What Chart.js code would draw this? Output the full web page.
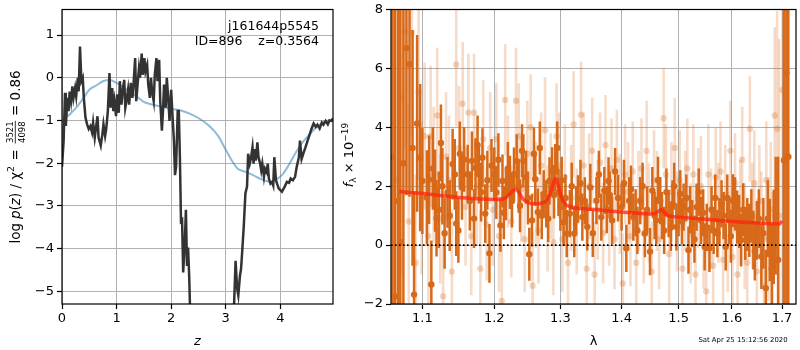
<!DOCTYPE html>
<html>
<head>
<meta charset="utf-8">
<script src="https://cdn.jsdelivr.net/npm/chart.js@4.4.1/dist/chart.umd.min.js"></script>
<style>
  html, body { margin: 0; padding: 0; background: #fff; }
  #wrap { position: relative; width: 800px; height: 350px; overflow: hidden; }
  #pz { position: absolute; left: 0; top: 0; }
  #spec { position: absolute; left: 340px; top: 0; }
</style>
</head>
<body>
<div id="wrap">
  <canvas id="pz" width="340" height="350"></canvas>
  <canvas id="spec" width="460" height="350"></canvas>
</div>
<script>
// ---- redshift probability panel ----
const zGrid = [0,0.03,0.055,0.07,0.1,0.12,0.14,0.165,0.19,0.21,
  0.24,0.26,0.29,0.305,0.33,0.355,0.38,0.4,0.43,0.46,
  0.49,0.52,0.55,0.57,0.6,0.62,0.65,0.67,0.71,0.74,
  0.76,0.79,0.81,0.84,0.87,0.89,0.92,0.94,0.96,0.99,
  1.01,1.04,1.06,1.09,1.11,1.14,1.16,1.18,1.21,1.23,
  1.26,1.29,1.31,1.34,1.36,1.39,1.41,1.43,1.46,1.48,
  1.51,1.53,1.56,1.58,1.61,1.63,1.65,1.68,1.70,1.73,
  1.75,1.78,1.80,1.83,1.85,1.87,1.90,1.92,1.95,1.97,
  2.00,2.02,2.05,2.07,2.09,2.12,2.14,2.16,2.18,2.20,
  2.22,2.25,2.27,2.29,2.31,2.33,2.35,2.45,2.65,2.85,
  3.05,3.13,3.15,3.18,3.21,3.23,3.26,3.28,3.30,3.33,
  3.36,3.39,3.41,3.44,3.46,3.49,3.51,3.53,3.55,3.58,
  3.60,3.63,3.65,3.67,3.70,3.72,3.75,3.77,3.79,3.82,
  3.85,3.87,3.89,3.92,3.94,3.97,4.00,4.03,4.08,4.12,
  4.16,4.19,4.23,4.27,4.30,4.34,4.36,4.39,4.43,4.46,
  4.50,4.54,4.57,4.61,4.65,4.68,4.72,4.76,4.79,4.83,
  4.87,4.90,4.94,4.965];
const logPz = [-2.09,-1.47,-0.35,-1.13,-0.47,-0.78,-0.32,-0.55,-0.2,-0.47,
  -0.24,-0.43,0,-0.32,0.73,-0.08,0,-0.47,-0.93,-1.09,
  -1.2,-1.13,-1.28,-1.05,-1.4,-1.2,-0.9,-1.4,-1.59,-1.32,
  -1.09,-1.36,-1.2,-0.78,0.11,-0.7,-0.24,-0.78,-0.55,-0.9,
  -0.39,-0.82,-0.08,-0.63,-0.32,-0.05,-0.7,-0.55,-0.28,-0.63,
  -0.12,-0.47,-0.16,0.46,-0.55,-0.08,0.22,0,0.57,0.07,
  0.46,0.15,0.3,-0.16,-0.47,0,-0.32,-0.55,0.07,0.46,
  -0.08,0.42,-0.55,-1.24,-0.78,-0.16,-0.7,0,-0.55,-1.01,
  -0.28,-0.78,-1.47,-2.28,-2.09,-0.78,-0.78,-1.86,-3.36,-3.33,
  -4.56,-3.86,-3.09,-4.41,-3.98,-4.64,-5.6,-7.5,-9.0,-9.5,
  -8.0,-6.3,-5.41,-4.29,-4.95,-5.1,-4.64,-4.48,-4.1,-3.48,
  -2.71,-2.55,-1.78,-2.01,-1.9,-1.63,-2.01,-1.67,-1.94,-1.51,
  -1.86,-2.01,-2.17,-2.01,-2.32,-2.13,-2.21,-2.01,-2.36,-2.48,
  -2.44,-2.52,-1.86,-2.4,-2.48,-2.59,-2.63,-2.67,-2.55,-2.44,
  -2.46,-2.36,-2.4,-2.32,-2.09,-1.86,-1.47,-1.9,-1.74,-1.63,
  -1.47,-1.32,-1.2,-1.07,-1.15,-1.1,-1.19,-1.05,-1.1,-1.01,
  -1.09,-1.0,-1.01,-0.95];
const zChi = [0,0.05,0.14,0.26,0.38,0.5,0.63,0.75,0.87,1.0,1.12,1.24,1.36,1.48,1.6,1.79,1.97,2.16,2.34,2.52,
  2.7,2.86,3.01,3.13,3.22,3.38,3.5,3.62,3.74,3.83,3.93,4.05,4.17,4.29,4.41,4.54,4.66,4.78,4.965];
const chiScaled = [-1.4,-1.0,-0.86,-0.7,-0.5,-0.28,-0.18,-0.08,-0.05,-0.12,-0.22,-0.33,-0.43,-0.55,-0.61,-0.67,-0.72,-0.76,-0.84,-0.96,
  -1.13,-1.36,-1.71,-1.98,-2.13,-2.21,-2.28,-2.36,-2.42,-2.44,-2.38,-2.25,-2.01,-1.74,-1.51,-1.32,-1.16,-1.05,-0.97];
const zTicks = [0, 1, 2, 3, 4];
const logPTicks = [-5, -4, -3, -2, -1, 0, 1];

// ---- spectrum panel ----
const waveDark = [1.061,1.064,1.068,1.071,1.075,1.079,1.083,1.087,1.089,1.093,1.097,1.100,1.106,1.109,1.112,1.117,1.119,1.125,1.130,1.134,
  1.141,1.146,1.149,1.154,1.157,1.162,1.168,1.173,1.178,1.183,1.187,1.193,1.200,1.203,1.209,1.212,1.217,1.223,1.229,1.233,
  1.238,1.243,1.247,1.252,1.256,1.261,1.265,1.268,1.274,1.278,1.283,1.287,1.292,1.297,1.300,1.305,1.310,1.315,1.322,1.328,
  1.335,1.343,1.348,1.358,1.366,1.371,1.378,1.384,1.400,1.408,1.413,1.420,1.427,1.432,1.440,1.449,1.453,1.460,1.467,1.474,
  1.482,1.489,1.496,1.503,1.509,1.518,1.525,1.533,1.541,1.548,1.557,1.565,1.572,1.580,1.588,1.595,1.602,1.610,1.618,1.626,
  1.634,1.642,1.649,1.658,1.667,1.675,1.683,1.692,1.704,1.709,1.713,
  1.114,1.122,1.127,1.137,1.144,1.151,1.165,1.171,1.176,1.181,1.190,1.196,1.206,1.214,1.220,1.226,1.236,1.241,1.250,1.259,
  1.271,1.281,1.290,1.295,1.302,1.308,1.318,1.325,1.332,1.339,1.352,1.362,1.375,1.380,1.389,1.394,1.404,1.416,1.424,1.436,
  1.444,1.457,1.463,1.470,1.478,1.486,1.492,1.500,1.506,1.514,1.521,1.529,1.537,1.545,1.552,1.561,1.568,1.576,1.584,1.591,
  1.598,1.606,1.614,1.622,1.630,1.638,1.645,1.653,1.662,1.671,1.679,1.687];
const fluxDark = [3.0,-1.74,1.5,0.11,2.78,6.69,6.14,3.3,-1.68,4.13,2.97,2.18,1.62,2.22,-1.34,1.85,0.91,3.47,0.4,1.79,
  2.75,0.73,0.5,1.96,2.91,2.41,2.86,2.63,2.41,2.97,1.07,-0.28,2.41,1.79,0.67,2.18,1.74,2.13,2.41,2.86,
  1.34,2.86,2.3,-0.31,0.84,2.24,1.12,3.3,1.74,1.4,2.18,2.52,2.63,1.79,1.29,0.78,0.39,1.07,0.39,1.57,
  0.95,0.62,1.96,1.51,0.95,1.85,2.18,0.84,1.29,-0.11,1.51,0.95,0.5,1.51,0.39,-0.22,1.85,0.84,1.51,0.5,
  1.07,1.4,0.62,1.74,1.29,-0.17,0.73,1.29,0.84,-0.06,-0.11,0.5,0.39,1.4,-0.06,0.84,1.51,0.95,0.17,0.39,
  0.5,0.17,0.5,-0.39,-1.46,0.17,0.28,-0.5,2.88,5.85,3.0,
  2.6,1.2,2.0,1.0,2.4,3.1,1.5,0.9,3.4,1.8,2.2,2.7,2.9,1.1,2.6,1.5,2.0,3.2,1.6,3.1,
  1.0,0.9,1.7,3.3,2.2,1.6,2.0,1.2,2.1,1.5,0.4,2.4,1.2,1.7,2.5,1.6,2.1,1.9,1.1,2.0,
  1.2,1.0,2.2,1.0,1.8,0.6,2.0,1.1,0.8,1.6,1.2,0.2,1.8,1.1,0.6,1.2,1.6,0.8,1.0,1.6,
  0.3,1.4,0.8,1.2,0.7,1.0,-0.2,0.9,0.4,0.9,-0.8,1.0];
const errDark = [12,12,10,9,6,5,4.5,4,3.5,3,2.5,1.8,1.6,1.5,1.5,1.4,1.3,1.3,1.2,1.2,
  1.2,1.1,1.1,1.1,1.1,1.0,1.0,1.0,1.0,1.0,1.0,1.0,0.9,0.9,0.9,0.9,0.9,0.9,0.9,0.9,
  0.9,0.9,0.9,0.9,0.9,0.9,0.8,0.9,0.8,0.8,0.8,0.8,0.8,0.8,0.8,0.8,0.8,0.8,0.8,0.8,
  0.8,0.8,0.8,0.8,0.8,0.8,0.8,0.8,0.8,0.8,0.8,0.8,0.8,0.8,0.8,0.8,0.8,0.8,0.8,0.8,
  0.8,0.8,0.8,0.8,0.8,0.8,0.8,0.8,0.8,0.8,0.8,0.8,0.8,0.8,0.8,0.8,0.9,0.9,0.9,0.9,
  0.9,1.0,1.0,1.1,1.3,1.4,1.6,3.5,12,12,12,
  1.4,1.3,1.3,1.2,1.2,1.1,1.0,1.0,1.0,1.0,1.0,0.9,0.9,0.9,0.9,0.9,0.9,0.9,0.9,0.9,
  0.8,0.8,0.8,0.9,0.8,0.8,0.8,0.8,0.8,0.8,0.8,0.8,0.8,0.8,0.8,0.8,0.8,0.8,0.8,0.8,
  0.8,0.8,0.8,0.8,0.8,0.8,0.8,0.8,0.8,0.8,0.8,0.8,0.8,0.8,0.8,0.8,0.8,0.8,0.8,0.8,
  0.9,0.9,0.9,0.9,0.9,0.9,1.0,1.0,1.2,1.3,1.5,2.0];

const waveLight = [1.066,1.072,1.077,1.082,1.086,1.091,1.095,1.099,1.103,1.108,1.111,1.115,1.120,1.124,1.128,1.132,1.136,1.140,1.146,1.150,
  1.155,1.159,1.163,1.167,1.171,1.175,1.180,1.184,1.189,1.194,1.198,1.203,1.207,1.211,1.216,1.220,1.225,1.232,1.236,1.240,
  1.245,1.249,1.254,1.257,1.262,1.266,1.270,1.276,1.280,1.285,1.289,1.294,1.298,1.303,1.307,1.312,1.317,1.321,1.326,1.333,
  1.337,1.342,1.346,1.351,1.355,1.360,1.364,1.369,1.373,1.379,1.383,1.388,1.392,1.397,1.402,1.406,1.411,1.415,1.419,1.425,
  1.429,1.434,1.438,1.443,1.447,1.452,1.456,1.461,1.465,1.473,1.477,1.483,1.487,1.493,1.497,1.502,1.507,1.512,1.516,1.522,
  1.527,1.531,1.536,1.541,1.546,1.551,1.555,1.560,1.564,1.569,1.574,1.578,1.583,1.587,1.592,1.597,1.601,1.606,1.611,1.616,
  1.620,1.625,1.630,1.635,1.640,1.644,1.649,1.654,1.658,1.663,1.668,1.672,1.677,1.681,1.685,1.690,1.694,1.701];
const fluxLight = [2.2,5.0,7.25,0.8,7.2,-0.6,5.2,1.6,3.7,0.3,3.7,2.4,4.4,0.9,-1.74,3.0,2.2,-0.9,6.13,3.3,
  4.8,1.3,4.5,0.3,4.5,2.0,-0.8,3.6,0.7,3.3,1.2,3.6,0.3,-1.9,4.93,2.5,0.8,4.9,3.7,1.9,
  0.2,3.1,4.0,-1.38,1.7,0.5,2.7,3.9,0.9,2.0,0.1,3.7,2.7,0.2,2.3,-0.6,1.6,4.1,0.8,4.43,
  2.7,-0.8,2.0,3.2,-1.0,1.2,2.8,0.4,3.4,1.0,2.6,0.2,2.9,1.4,-1.3,2.4,1.8,0.3,2.5,-0.6,
  1.5,2.6,0.4,3.2,1.1,-0.9,2.2,1.5,0.2,4.31,2.4,-0.3,1.8,3.3,0.8,2.2,-0.8,1.5,2.6,0.4,
  2.4,-1.0,1.6,2.0,0.2,-1.57,2.4,0.9,-0.7,2.3,1.1,2.5,-0.5,1.7,0.1,3.2,-0.4,2.1,-1.0,1.1,
  2.9,0.3,-0.6,3.95,1.0,2.1,-0.9,1.5,0.6,-1.4,2.2,0.2,1.2,-0.7,4.4,3.95,1.0,5.27];
const errLight = [9,6,4,4,3.5,3,3,2.6,2.5,2.4,2.4,2.3,2.3,2.2,2.2,2.2,2.2,2.1,2.1,2.1,
  2.1,2.0,2.0,2.0,2.0,2.0,2.0,2.0,1.9,1.9,1.9,1.9,1.9,1.9,1.9,1.9,1.9,1.8,1.8,1.8,
  1.8,1.8,1.8,1.8,1.8,1.8,1.8,1.8,1.8,1.8,1.8,1.8,1.8,1.8,1.8,1.8,1.8,1.8,1.8,1.8,
  1.8,1.8,1.8,1.8,1.8,1.7,1.7,1.7,1.7,1.7,1.7,1.7,1.7,1.7,1.7,1.7,1.7,1.7,1.7,1.7,
  1.7,1.7,1.7,1.7,1.7,1.7,1.7,1.7,1.7,1.7,1.7,1.7,1.7,1.7,1.7,1.7,1.7,1.7,1.7,1.7,
  1.7,1.7,1.7,1.7,1.7,1.7,1.7,1.7,1.7,1.7,1.7,1.7,1.7,1.7,1.7,1.7,1.7,1.7,1.7,1.8,
  1.8,1.8,1.8,1.8,1.8,1.8,1.8,1.9,1.9,2.0,2.0,2.1,2.3,2.5,3,4,6,8];

const modelWave = [1.07,1.10,1.15,1.20,1.215,1.222,1.228,1.232,1.236,1.242,1.25,1.26,1.27,1.278,1.284,1.289,1.293,1.297,1.302,1.31,
  1.35,1.40,1.45,1.458,1.464,1.469,1.474,1.48,1.50,1.55,1.60,1.65,1.695,1.70];
const modelFlux = [1.82,1.75,1.62,1.55,1.58,1.72,1.86,1.9,1.8,1.58,1.45,1.4,1.42,1.5,1.75,2.1,2.25,2.0,1.6,1.35,
  1.22,1.12,1.06,1.07,1.15,1.2,1.12,1.0,0.95,0.88,0.8,0.75,0.72,0.82];
const waveTicks = [1.1, 1.2, 1.3, 1.4, 1.5, 1.6, 1.7];
const fluxTicks = [-2, 0, 2, 4, 6, 8];

// ---- styling helpers ----
const FONT = "'DejaVu Sans', sans-serif";
const ORANGE = 'rgb(215,105,25)';
const ORANGE_LIGHT = 'rgba(215,105,25,0.24)';
const minusFmt = v => (v < 0 ? '\u2212' + Math.abs(v) : String(v));

function gridOpts() {
  return { color: '#b0b0b0', lineWidth: 1, tickColor: '#000', tickLength: 5, tickWidth: 1.2, drawTicks: true };
}
function tickFont() { return { family: FONT, size: 13, lineHeight: 1 }; }

// rich text: parts drawn left to right along a baseline
function partWidth(ctx, p) {
  ctx.font = p.font;
  if (p.frac) return Math.max(ctx.measureText(p.frac[0]).width, ctx.measureText(p.frac[1]).width) + 2;
  return ctx.measureText(p.t).width + (p.gap || 0);
}
function drawRich(ctx, parts, cx, cy, rot, baseOffset) {
  ctx.save();
  ctx.translate(cx, cy);
  ctx.rotate(rot);
  ctx.fillStyle = '#000';
  ctx.strokeStyle = '#000';
  ctx.textBaseline = 'alphabetic';
  const total = parts.reduce((s, p) => s + partWidth(ctx, p), 0);
  let x = -total / 2;
  for (const p of parts) {
    const w = partWidth(ctx, p);
    ctx.font = p.font;
    if (p.frac) {
      ctx.textAlign = 'center';
      ctx.fillText(p.frac[0], x + w / 2, baseOffset - 6.5);
      ctx.fillText(p.frac[1], x + w / 2, baseOffset + 5);
      ctx.lineWidth = 0.8;
      ctx.beginPath();
      ctx.moveTo(x + 0.5, baseOffset - 4.2);
      ctx.lineTo(x + w - 0.5, baseOffset - 4.2);
      ctx.stroke();
      ctx.textAlign = 'left';
    } else {
      ctx.textAlign = 'left';
      ctx.fillText(p.t, x, baseOffset + (p.dy || 0));
    }
    x += w;
  }
  ctx.restore();
}

const framePlugin = {
  id: 'frame',
  afterDatasetsDraw(chart) {
    const { ctx, chartArea: a } = chart;
    ctx.save();
    ctx.strokeStyle = '#000';
    ctx.lineWidth = 1.2;
    ctx.strokeRect(a.left, a.top, a.right - a.left, a.bottom - a.top);
    ctx.restore();
  }
};

const pzText = {
  id: 'pzText',
  afterDraw(chart) {
    const ctx = chart.ctx;
    const base = `13.5px ${FONT}`;
    const ital = `italic 13.5px ${FONT}`;
    const small = `9.5px ${FONT}`;
    drawRich(ctx, [
      { t: 'log', font: base, gap: 4 },
      { t: 'p', font: ital },
      { t: '(', font: base },
      { t: 'z', font: ital },
      { t: ') / ', font: base },
      { t: '\u03c7', font: base },
      { t: '2', font: small, dy: -5.5, gap: 1 },
      { t: ' = ', font: base, gap: 1 },
      { frac: ['3521', '4098'], font: `8.5px ${FONT}` },
      { t: ' = 0.86', font: base }
    ], 19.5, 157, -Math.PI / 2, 0);

    ctx.save();
    ctx.fillStyle = '#000';
    ctx.font = `12.5px ${FONT}`;
    ctx.textAlign = 'right';
    ctx.textBaseline = 'alphabetic';
    ctx.fillText('j161644p5545', 319, 30);
    ctx.fillText('ID=896    z=0.3564', 319, 44.5);
    ctx.restore();
  }
};

const specText = {
  id: 'specText',
  afterDraw(chart) {
    const ctx = chart.ctx;
    drawRich(ctx, [
      { t: 'f', font: `italic 13px ${FONT}` },
      { t: '\u03bb', font: `9px ${FONT}`, dy: 3 },
      { t: ' \u00d7 10', font: `13px ${FONT}` },
      { t: '\u221219', font: `9px ${FONT}`, dy: -5.5 }
    ], 13, 155, -Math.PI / 2, 0);

    ctx.save();
    ctx.fillStyle = '#000';
    ctx.font = `6.9px ${FONT}`;
    ctx.textAlign = 'center';
    ctx.textBaseline = 'alphabetic';
    ctx.fillText('Sat Apr 25 15:12:56 2020', 403, 341.5);
    ctx.restore();
  }
};

Chart.defaults.font.family = FONT;
Chart.defaults.color = '#000';

// ---- left panel: log p(z) and scaled chi2 ----
new Chart(document.getElementById('pz'), {
  type: 'line',
  data: {
    datasets: [
      {
        data: zGrid.map((z, i) => ({ x: z, y: logPz[i] })),
        borderColor: '#333333', borderWidth: 2.5, pointRadius: 0, tension: 0, clip: 0, order: 0
      },
      {
        data: zChi.map((z, i) => ({ x: z, y: chiScaled[i] })),
        borderColor: 'rgba(31,119,180,0.5)', borderWidth: 2, pointRadius: 0,
        cubicInterpolationMode: 'monotone', clip: 0, order: 1
      }
    ]
  },
  options: {
    responsive: false, animation: false, events: [],
    layout: { padding: { left: 0, right: 7, top: 7, bottom: 0 } },
    plugins: { legend: { display: false }, tooltip: { enabled: false } },
    scales: {
      x: {
        type: 'linear', min: 0, max: 4.965,
        afterBuildTicks: s => { s.ticks = zTicks.map(v => ({ value: v })); },
        afterFit: s => { s.height = 46; },
        grid: gridOpts(), border: { display: false },
        ticks: { font: tickFont(), padding: 3, maxRotation: 0, autoSkip: false, callback: v => minusFmt(v) },
        title: { display: true, text: 'z', font: { family: FONT, size: 13, style: 'italic', lineHeight: 1.2 }, padding: { top: 0, bottom: 1 } }
      },
      y: {
        type: 'linear', min: -5.3, max: 1.6,
        afterBuildTicks: s => { s.ticks = logPTicks.map(v => ({ value: v })); },
        afterFit: s => { s.width = 62; },
        grid: gridOpts(), border: { display: false },
        ticks: { font: tickFont(), padding: 3, autoSkip: false, callback: v => minusFmt(v) }
      }
    }
  },
  plugins: [framePlugin, pzText]
});

// ---- right panel: spectrum with uncertainties and model ----
const barData = (w, f, e) => w.map((x, i) => ({ x, y: [f[i] - e[i], f[i] + e[i]] }));
const ptData = (w, f) => w.map((x, i) => ({ x, y: f[i] }));

new Chart(document.getElementById('spec'), {
  type: 'scatter',
  data: {
    datasets: [
      {
        type: 'line', data: [{ x: 1.059, y: 0 }, { x: 1.729, y: 0 }],
        borderColor: '#000', borderWidth: 1.6, borderDash: [1.6, 2.4], pointRadius: 0, order: 0
      },
      {
        type: 'line', data: ptData(modelWave, modelFlux),
        borderColor: 'rgba(255,35,15,0.75)', borderWidth: 3.5, pointRadius: 0,
        cubicInterpolationMode: 'monotone', order: 1
      },
      {
        type: 'scatter', data: ptData(waveDark, fluxDark),
        backgroundColor: ORANGE, borderWidth: 0, pointRadius: 3.2, order: 2
      },
      {
        type: 'bar', data: barData(waveDark, fluxDark, errDark),
        backgroundColor: ORANGE, borderWidth: 0, barThickness: 2.5, inflateAmount: 0, grouped: false, order: 3
      },
      {
        type: 'scatter', data: ptData(waveLight, fluxLight),
        backgroundColor: 'rgba(215,105,25,0.28)', borderWidth: 0, pointRadius: 3.2, order: 4
      },
      {
        type: 'bar', data: barData(waveLight, fluxLight, errLight),
        backgroundColor: ORANGE_LIGHT, borderWidth: 0, barThickness: 2.6, inflateAmount: 0, grouped: false, order: 5
      }
    ]
  },
  options: {
    responsive: false, animation: false, events: [],
    layout: { padding: { left: 0, right: 1, top: 7, bottom: 0 } },
    plugins: { legend: { display: false }, tooltip: { enabled: false } },
    scales: {
      x: {
        type: 'logarithmic', min: 1.059, max: 1.729, offset: false,
        afterBuildTicks: s => { s.ticks = waveTicks.map(v => ({ value: v })); },
        afterFit: s => { s.height = 46; },
        grid: Object.assign(gridOpts(), { offset: false }), border: { display: false },
        ticks: { font: tickFont(), padding: 3, maxRotation: 0, autoSkip: false, callback: v => Number(v).toFixed(1) },
        title: { display: true, text: '\u03bb', font: { family: FONT, size: 13, lineHeight: 1.2 }, padding: { top: 0, bottom: 1 } }
      },
      y: {
        type: 'linear', min: -2, max: 8,
        afterBuildTicks: s => { s.ticks = fluxTicks.map(v => ({ value: v })); },
        afterFit: s => { s.width = 51; },
        grid: gridOpts(), border: { display: false },
        ticks: { font: tickFont(), padding: 3, autoSkip: false, callback: v => minusFmt(v) }
      }
    }
  },
  plugins: [framePlugin, specText]
});
</script>
</body>
</html>
